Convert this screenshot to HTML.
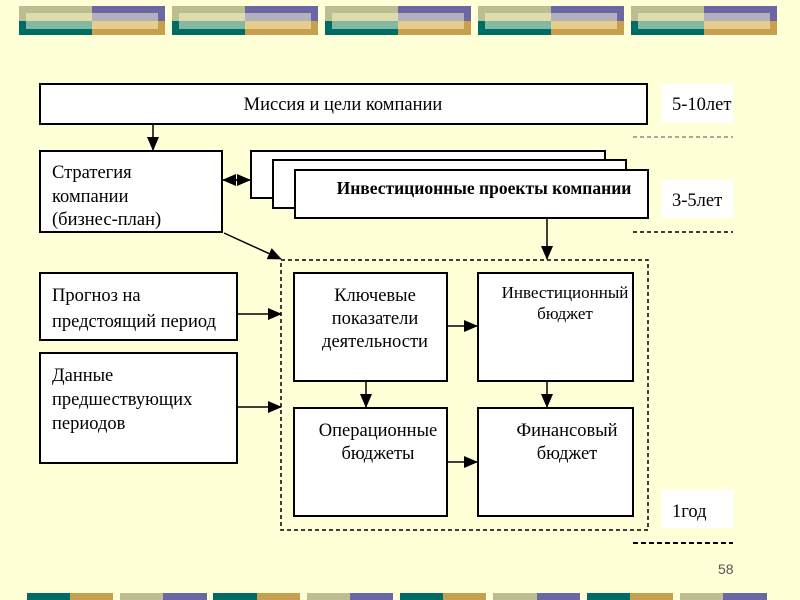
<!DOCTYPE html>
<html><head><meta charset="utf-8"><style>
html,body{margin:0;padding:0;background:#ffffd8;}
svg{display:block}
text{font-family:"Liberation Serif",serif;fill:#000}
</style></head><body>
<svg width="800" height="600" viewBox="0 0 800 600" xmlns="http://www.w3.org/2000/svg">
<defs>
<marker id="a" markerWidth="14" markerHeight="12" refX="13" refY="6" orient="auto" markerUnits="userSpaceOnUse"><path d="M0,0 L14,6 L0,12 z" fill="#000"/></marker>
<marker id="b" markerWidth="14" markerHeight="12" refX="1" refY="6" orient="auto" markerUnits="userSpaceOnUse"><path d="M14,0 L0,6 L14,12 z" fill="#000"/></marker>
<g id="grp">
<rect x="0" y="0" width="73" height="15" fill="#bcbd90"/>
<rect x="73" y="0" width="73" height="15" fill="#6b67a4"/>
<rect x="0" y="15" width="73" height="14" fill="#006c66"/>
<rect x="73" y="15" width="73" height="14" fill="#c6a04e"/>
<rect x="7" y="7" width="66" height="8" fill="#dedcac"/>
<rect x="73" y="7" width="66" height="8" fill="#b3b1bd"/>
<rect x="7" y="15" width="66" height="8" fill="#85b8a2"/>
<rect x="73" y="15" width="66" height="8" fill="#e5cd8b"/>
</g>
</defs>
<rect width="800" height="600" fill="#ffffd8"/>
<use href="#grp" x="19" y="6"/>
<use href="#grp" x="172" y="6"/>
<use href="#grp" x="325" y="6"/>
<use href="#grp" x="478" y="6"/>
<use href="#grp" x="631" y="6"/>
<g>
<rect x="27" y="593" width="43" height="7" fill="#006c66"/><rect x="70" y="593" width="43" height="7" fill="#c6a04e"/>
<rect x="120" y="593" width="43" height="7" fill="#bcbd90"/><rect x="163" y="593" width="44" height="7" fill="#6b67a4"/>
<rect x="213" y="593" width="44" height="7" fill="#006c66"/><rect x="257" y="593" width="43" height="7" fill="#c6a04e"/>
<rect x="307" y="593" width="43" height="7" fill="#bcbd90"/><rect x="350" y="593" width="43" height="7" fill="#6b67a4"/>
<rect x="400" y="593" width="43" height="7" fill="#006c66"/><rect x="443" y="593" width="43" height="7" fill="#c6a04e"/>
<rect x="493" y="593" width="44" height="7" fill="#bcbd90"/><rect x="537" y="593" width="43" height="7" fill="#6b67a4"/>
<rect x="587" y="593" width="43" height="7" fill="#006c66"/><rect x="630" y="593" width="43" height="7" fill="#c6a04e"/>
<rect x="680" y="593" width="43" height="7" fill="#bcbd90"/><rect x="723" y="593" width="44" height="7" fill="#6b67a4"/>
</g>

<g stroke="#000" stroke-width="2" fill="#fff">
<rect x="40" y="84" width="607" height="40"/>
<rect x="40" y="151" width="182" height="81"/>
<rect x="251" y="151" width="354" height="47"/>
<rect x="273" y="160" width="353" height="48"/>
<rect x="295" y="170" width="353" height="48"/>
<rect x="40" y="273" width="197" height="67"/>
<rect x="40" y="353" width="197" height="110"/>
<rect x="294" y="273" width="153" height="108"/>
<rect x="478" y="273" width="155" height="108"/>
<rect x="294" y="408" width="153" height="108"/>
<rect x="478" y="408" width="155" height="108"/>
</g>
<rect x="281" y="260" width="367" height="270" fill="none" stroke="#000" stroke-width="1.5" stroke-dasharray="4,3"/>

<g fill="#fff">
<rect x="661" y="84" width="72" height="39"/>
<rect x="661" y="180" width="72" height="38"/>
<rect x="661" y="490" width="72" height="38"/>
</g>
<line x1="633" y1="137" x2="733" y2="137" stroke="#555" stroke-width="1" stroke-dasharray="4,3"/>
<line x1="633" y1="232" x2="733" y2="232" stroke="#000" stroke-width="1.5" stroke-dasharray="4,3"/>
<line x1="633" y1="543" x2="733" y2="543" stroke="#000" stroke-width="2" stroke-dasharray="5,3"/>

<g stroke="#000" stroke-width="1.5" fill="none">
<line x1="153" y1="124" x2="153" y2="150" marker-end="url(#a)"/>
<line x1="223" y1="180" x2="237" y2="180" marker-start="url(#b)"/>
<line x1="236" y1="180" x2="250" y2="180" marker-end="url(#a)"/>
<line x1="224" y1="233" x2="281" y2="259" marker-end="url(#a)"/>
<line x1="547" y1="218" x2="547" y2="259" marker-end="url(#a)"/>
<line x1="237" y1="314" x2="281" y2="314" marker-end="url(#a)"/>
<line x1="237" y1="407" x2="281" y2="407" marker-end="url(#a)"/>
<line x1="447" y1="326" x2="477" y2="326" marker-end="url(#a)"/>
<line x1="447" y1="462" x2="477" y2="462" marker-end="url(#a)"/>
<line x1="366" y1="381" x2="366" y2="407" marker-end="url(#a)"/>
<line x1="547" y1="381" x2="547" y2="407" marker-end="url(#a)"/>
</g>

<g font-size="18.5">
<text x="343" y="110" text-anchor="middle">Миссия и цели компании</text>
<text x="52" y="178">Стратегия</text>
<text x="52" y="202">компании</text>
<text x="52" y="225">(бизнес-план)</text>
<text x="484" y="194" text-anchor="middle" font-weight="bold" font-size="17.5">Инвестиционные проекты компании</text>
<text x="52" y="301">Прогноз на</text>
<text x="52" y="327">предстоящий период</text>
<text x="52" y="381">Данные</text>
<text x="52" y="405">предшествующих</text>
<text x="52" y="429">периодов</text>
<text x="375" y="301" text-anchor="middle">Ключевые</text>
<text x="375" y="324" text-anchor="middle">показатели</text>
<text x="375" y="347" text-anchor="middle">деятельности</text>
<text x="565" y="298" text-anchor="middle" font-size="17">Инвестиционный</text>
<text x="565" y="319" text-anchor="middle" font-size="17">бюджет</text>
<text x="378" y="436" text-anchor="middle">Операционные</text>
<text x="378" y="459" text-anchor="middle">бюджеты</text>
<text x="567" y="436" text-anchor="middle">Финансовый</text>
<text x="567" y="459" text-anchor="middle">бюджет</text>
<text x="672" y="110">5-10лет</text>
<text x="672" y="206">3-5лет</text>
<text x="672" y="517">1год</text>
</g>
<text x="718" y="574" font-size="14" style="font-family:'Liberation Sans',sans-serif;fill:#555">58</text>
</svg>
</body></html>
